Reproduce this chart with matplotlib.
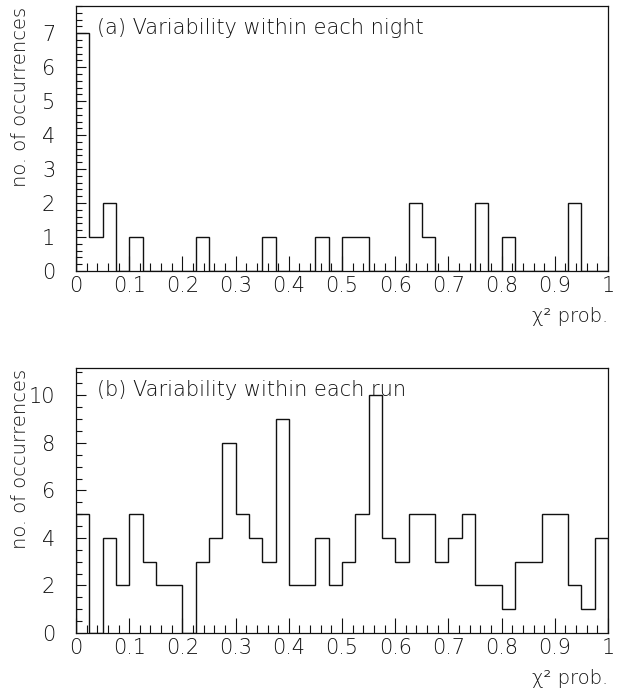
import numpy as np
import matplotlib
matplotlib.use('Agg')
import matplotlib.pyplot as plt
from matplotlib.ticker import MultipleLocator

# bin edges: 40 bins of width 0.025 in chi^2 probability
edges = np.linspace(0, 1, 41)

# (a) variability within each night
night_counts = [7, 1, 2, 0, 1, 0, 0, 0, 0, 1,
                0, 0, 0, 0, 1, 0, 0, 0, 1, 0,
                1, 1, 0, 0, 0, 2, 1, 0, 0, 0,
                2, 0, 1, 0, 0, 0, 0, 2, 0, 0]

# (b) variability within each run
run_counts = [5, 0, 4, 2, 5, 3, 2, 2, 0, 3,
              4, 8, 5, 4, 3, 9, 2, 2, 4, 2,
              3, 5, 10, 4, 3, 5, 5, 3, 4, 5,
              2, 2, 1, 3, 3, 5, 5, 2, 1, 4]

titles = ['(a) Variability within each night', '(b) Variability within each run']
xticks = np.arange(0, 1.01, 0.1)
xticklabels = ['0', '0.1', '0.2', '0.3', '0.4', '0.5', '0.6', '0.7', '0.8', '0.9', '1']

plt.rcParams['font.family'] = ['DejaVu Sans']
plt.rcParams['font.weight'] = 'light'
plt.rcParams['axes.labelweight'] = 'light'
W, H = 622, 694
fig = plt.figure(figsize=(W / 100, H / 100), dpi=100)

# axes boxes in pixels: left, top, right, bottom
boxes = [(76, 6, 608, 271), (76, 368, 608, 633)]
ylims = [7.8, 11.15]
ymaj = [1, 2]
ymin = [0.2, 0.5]
data = [night_counts, run_counts]
ink = '#111111'

for i in range(2):
    l, t, r, b = boxes[i]
    ax = fig.add_axes([l / W, 1 - b / H, (r - l) / W, (b - t) / H])
    ax.stairs(data[i], edges, color=ink, lw=1.0, baseline=0)
    ax.set_xlim(0, 1)
    ax.set_ylim(0, ylims[i])
    ax.set_xticks(xticks)
    ax.set_xticklabels(xticklabels)
    ax.xaxis.set_minor_locator(MultipleLocator(0.02))
    ax.yaxis.set_major_locator(MultipleLocator(ymaj[i]))
    ax.yaxis.set_minor_locator(MultipleLocator(ymin[i]))
    ax.tick_params(which='both', direction='in', top=False, right=False,
                   labelsize=15, colors=ink, width=0.8)
    ax.tick_params(axis='x', which='major', length=11, pad=3.6)
    ax.tick_params(axis='x', which='minor', length=6)
    ax.tick_params(axis='y', which='major', length=7, pad=15)
    ax.tick_params(axis='y', which='minor', length=4)
    for s in ax.spines.values():
        s.set_linewidth(0.9)
        s.set_color(ink)
    ax.text(0.04, 0.955, titles[i], transform=ax.transAxes, fontsize=15,
            ha='left', va='top', color=ink)
    ax.set_ylabel('no. of occurrences', fontsize=14, loc='top', color=ink)
    ax.yaxis.set_label_coords(-0.087, 0.995)
    ax.set_xlabel('χ² prob.', fontsize=14, loc='right', color=ink, labelpad=8)

fig.savefig('out.png', dpi=100)
